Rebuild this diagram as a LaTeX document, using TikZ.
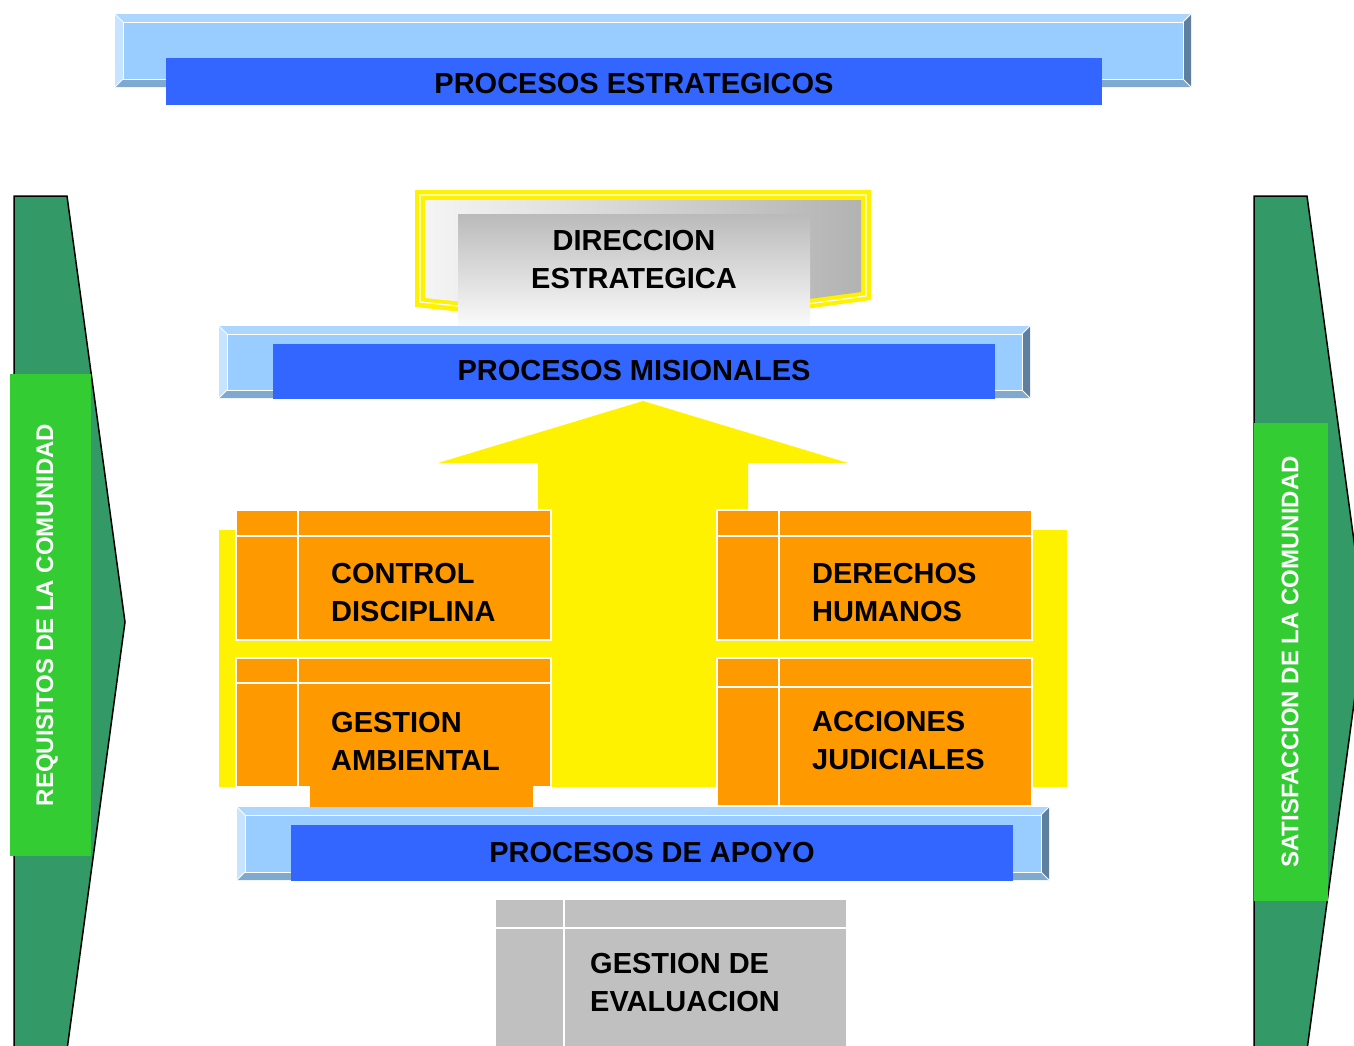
\documentclass[tikz,border=0pt]{standalone}
\usepackage{fontspec}
\setmainfont{Liberation Sans}
\definecolor{bvface}{HTML}{99CCFF}
\definecolor{bvtopc}{HTML}{ADD6FF}
\definecolor{bvleftc}{HTML}{C6E3FF}
\definecolor{bvbotc}{HTML}{7FA9CF}
\definecolor{bvrightc}{HTML}{5F7F9F}
\definecolor{procblue}{HTML}{3366FF}
\definecolor{orangebox}{HTML}{FF9900}
\definecolor{graybox}{HTML}{C0C0C0}
\definecolor{darkgreen}{HTML}{339966}
\definecolor{lightgreen}{HTML}{33CC33}
\tikzset{
  bigtext/.style={font=\fontsize{29}{38}\selectfont\bfseries, text=black, inner sep=0pt},
  sidetext/.style={font=\fontsize{24}{30}\selectfont\bfseries, text=white, inner sep=0pt, rotate=90},
  bluebar/.style={fill=procblue, draw=none},
  obox/.style={fill=orangebox, draw=white, line width=1.5pt},
  oline/.style={draw=white, line width=1.5pt},
  gline/.style={draw=white, line width=2pt},
}
\newcommand{\bevelbox}[4]{%
  \fill[bvtopc] (#1,#2) -- (#3,#2) -- (#3-8,#2+8) -- (#1+8,#2+8) -- cycle;
  \fill[bvleftc] (#1,#2) -- (#1+8,#2+8) -- (#1+8,#4-8) -- (#1,#4) -- cycle;
  \fill[bvbotc] (#1,#4) -- (#1+8,#4-8) -- (#3-8,#4-8) -- (#3,#4) -- cycle;
  \fill[bvrightc] (#3,#2) -- (#3,#4) -- (#3-8,#4-8) -- (#3-8,#2+8) -- cycle;
  \filldraw[fill=bvface, draw=white, line width=1pt] (#1+8,#2+8) rectangle (#3-8,#4-8);
  \draw[white, line width=1pt] (#1,#2) -- (#1+8,#2+8) (#3,#2) -- (#3-8,#2+8)
     (#1,#4) -- (#1+8,#4-8) (#3,#4) -- (#3-8,#4-8);
}
\begin{document}
\begin{tikzpicture}[x=1pt,y=-1pt]
\useasboundingbox (0,0) rectangle (1354,1045);
\clip (0,0) rectangle (1354,1045);
\fill[white] (0,0) rectangle (1354,1045);

% side arrows
\filldraw[fill=darkgreen, draw=black, line width=1.5pt]
  (14,196) -- (67,196) -- (125,622) -- (67,1050) -- (14,1050) -- cycle;
\fill[lightgreen] (10,374) rectangle (91,856);
\node[sidetext] (req) at (47,615) {REQUISITOS DE LA COMUNIDAD};

\filldraw[fill=darkgreen, draw=black, line width=1.5pt]
  (1254,196) -- (1307,196) -- (1365,622) -- (1307,1050) -- (1254,1050) -- cycle;
\fill[lightgreen] (1254,423) rectangle (1328,901);
\node[sidetext] (sat) at (1290,662) {SATISFACCION DE LA COMUNIDAD};

% top: procesos estrategicos
\bevelbox{115}{14}{1191}{87}
\fill[bluebar] (166,58) rectangle (1102,105);
\node[bigtext] (pe) at (634,84) {PROCESOS ESTRATEGICOS};

% direccion estrategica
\fill[yellow] (415,190) -- (871,190) -- (871,300) -- (645,331) -- (415,307) -- cycle;
\draw[white, line width=1.2pt] (420,195) -- (866,195) -- (866,296) -- (645,326) -- (420,302) -- cycle;
\shade[left color=white!96!black, right color=black!30] (425,200) -- (861,200) -- (861,292) -- (645,321) -- (425,298) -- cycle;
\shade[top color=black!27, bottom color=white!98!black] (458,214) rectangle (810,325);
\node[bigtext, align=center] (dir) at (634,260) {DIRECCION\\ESTRATEGICA};

% procesos misionales
\bevelbox{219}{326}{1030}{398}
\fill[bluebar] (273,344) rectangle (995,399);
\node[bigtext] (pm) at (634,371) {PROCESOS MISIONALES};

% yellow arrow
\fill[yellow] (643,401) -- (848,463) -- (748,463) -- (748,787) -- (538,787) -- (538,463) -- (438,463) -- cycle;
\fill[yellow] (219,530) rectangle (1067,787);

% orange boxes
\filldraw[obox] (236,510) rectangle (551,640);
\draw[oline] (298,510) -- (298,640) (236,536) -- (551,536);
\node[bigtext, align=left, anchor=west] (cd) at (331,593) {CONTROL\\DISCIPLINA};

\filldraw[obox] (236,658) rectangle (551,787);
\draw[oline] (298,658) -- (298,787) (236,683) -- (551,683);
\fill[orangebox] (310,786) rectangle (533,807);
\node[bigtext, align=left, anchor=west] (ga) at (331,741) {GESTION\\AMBIENTAL};

\filldraw[obox] (717,510) rectangle (1032,640);
\draw[oline] (779,510) -- (779,640) (717,536) -- (1032,536);
\node[bigtext, align=left, anchor=west] (dh) at (812,593) {DERECHOS\\HUMANOS};

\filldraw[obox] (717,658) rectangle (1032,806);
\draw[oline] (779,658) -- (779,806) (717,687) -- (1032,687);
\node[bigtext, align=left, anchor=west] (aj) at (812,741) {ACCIONES\\JUDICIALES};

% procesos de apoyo
\bevelbox{237}{807}{1049}{880}
\fill[bluebar] (291,825) rectangle (1013,881);
\node[bigtext] (pa) at (652,853) {PROCESOS DE APOYO};

% gestion de evaluacion
\fill[graybox] (496,900) rectangle (846,1050);
\draw[gline] (564,900) -- (564,1050) (496,928) -- (846,928);
\node[bigtext, align=left, anchor=west] (ge) at (590,982) {GESTION DE\\EVALUACION};
\end{tikzpicture}
\end{document}
